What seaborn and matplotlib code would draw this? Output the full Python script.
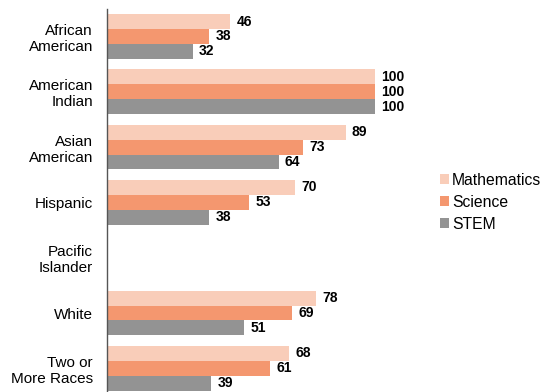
import numpy as np
import pandas as pd
import matplotlib.pyplot as plt
import seaborn as sns

groups = ['African\nAmerican', 'American\nIndian', 'Asian\nAmerican', 'Hispanic',
          'Pacific\nIslander', 'White', 'Two or\nMore Races']
math = [46, 100, 89, 70, np.nan, 78, 68]
science = [38, 100, 73, 53, np.nan, 69, 61]
stem = [32, 100, 64, 38, np.nan, 51, 39]
series = ['Mathematics', 'Science', 'STEM']
colors = ['#f9cdb9', '#f4976f', '#939393']

df = pd.DataFrame({'group': groups * 3,
                   'subject': np.repeat(series, len(groups)),
                   'value': math + science + stem})

sns.set_style('white')
plt.rcParams['font.family'] = ['Liberation Sans', 'DejaVu Sans']
plt.rcParams['text.color'] = 'black'
plt.rcParams['ytick.color'] = 'black'

fig = plt.figure(figsize=(5.43, 3.92), dpi=100)
ax = fig.add_axes([0.197, -0.0102, 0.5923, 0.9878])

sns.barplot(data=df, y='group', x='value', hue='subject', palette=colors,
            orient='h', width=0.81, saturation=1, edgecolor='none', ax=ax)

for cont in ax.containers:
    for bar in cont:
        w = bar.get_width()
        if np.isnan(w):
            continue
        ax.text(w + 2.4, bar.get_y() + bar.get_height() / 2, f'{w:.0f}',
                va='center', ha='left', fontsize=10, fontweight='bold')

ax.set_xlim(0, 120)
ax.set_ylim(6.5, -0.5)
ax.set_xlabel('')
ax.set_ylabel('')
ax.set_xticks([])
ax.tick_params(axis='y', length=0, pad=10, labelsize=11)
for lab in ax.get_yticklabels():
    lab.set_multialignment('right')
for s in ['top', 'right', 'bottom']:
    ax.spines[s].set_visible(False)
ax.spines['left'].set_color('#555555')
ax.spines['left'].set_linewidth(1)

ax.legend(loc='center left', bbox_to_anchor=(1.0, 0.5), frameon=False,
          fontsize=11.3, handlelength=0.6, handleheight=0.6, handletextpad=0.2,
          labelspacing=0.45, borderaxespad=0.3)

fig.savefig('out.png', dpi=100)
